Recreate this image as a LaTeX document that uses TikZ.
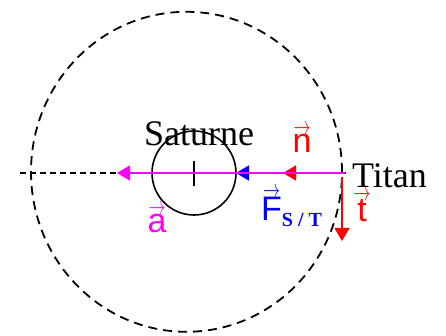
\RequirePackage{fix-cm}
\documentclass[tikz,border=0pt]{standalone}
\usepackage{fontspec}
\setmainfont{Liberation Serif}
\setsansfont{Liberation Sans}
\usetikzlibrary{arrows.meta}

\definecolor{accmag}{RGB}{255,0,255}
\newcommand{\vecsf}[1]{\leavevmode\vbox{\offinterlineskip\halign{\hfil##\hfil\cr
	\scalebox{0.5}[0.75]{$\rightarrow$}\cr\noalign{\kern0pt}\textsf{#1}\cr}}}

\tikzset{
	vecarrow/.style={line width=1.8pt,-{Triangle[length=13pt,width=15pt]}},
	orbit/.style={line width=1.8pt,dash pattern=on 9pt off 6pt},
	axis/.style={line width=1.5pt,dash pattern=on 6pt off 4pt},
	bodylbl/.style={font=\fontsize{36}{40}\selectfont,inner sep=0pt},
	veclbl/.style={font=\fontsize{34}{36}\selectfont\sffamily,inner sep=0pt}
}

\begin{document}
\begin{tikzpicture}[x=1pt,y=-1pt]
	\useasboundingbox (0,0) rectangle (446,336);
	\coordinate (S) at (194,173);
	\coordinate (T) at (345,173);
	\coordinate (O) at (186.5,171.8);
	\coordinate (axisL) at (20,173);
	\coordinate (axisR) at (348,173);
	\coordinate (tipA) at (117,173);
	\coordinate (tipF) at (236,173);
	\coordinate (tipN) at (283,173);
	\coordinate (startT) at (342,177);
	\coordinate (tipT) at (342,241);
	\draw [orbit] (O) ellipse [x radius=155.5pt, y radius=160pt];
	\draw [axis] (axisL) -- (axisR);
	\draw [line width=1.6pt] (S) circle [radius=42pt];
	\draw [line width=1.2pt] (194,161) -- (194,186);
	\draw [vecarrow,blue] (T) -- (tipF);
	\draw [vecarrow,red] (T) -- (tipN);
	\draw [vecarrow,accmag] (T) -- (tipA);
	\draw [vecarrow,red,line width=1.5pt] (startT) -- (tipT);
	\node [bodylbl,anchor=base] (saturne) at (199,146) {Saturne};
	\node [bodylbl,anchor=base west] (titan) at (352,188) {Titan};
	\node [veclbl,red,anchor=base] (n) at (302,153) {\vecsf{n}};
	\node [veclbl,accmag,anchor=base] (a) at (157,233) {\vecsf{a}};
	\node [veclbl,red,anchor=base] (t) at (362,222) {\vecsf{t}};
	\node [veclbl,blue,anchor=base west] (F) at (261,221) {\vecsf{F}\raisebox{-6pt}{\fontsize{20}{22}\selectfont\rmfamily\bfseries S / T}};
\end{tikzpicture}
\end{document}
